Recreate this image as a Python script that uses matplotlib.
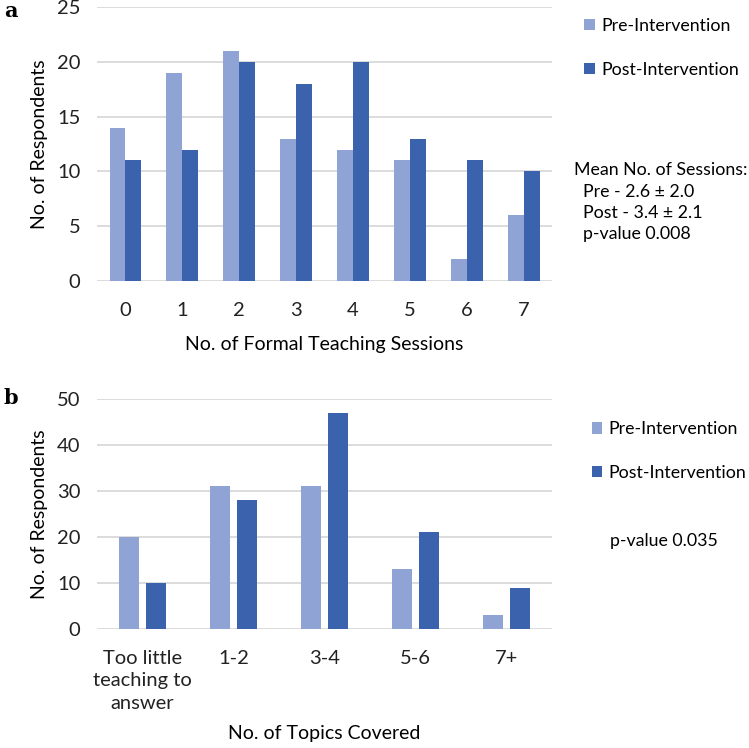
import numpy as np
import matplotlib
matplotlib.use("Agg")
import matplotlib.pyplot as plt

# Panel a: number of formal teaching sessions
sessions = ["0", "1", "2", "3", "4", "5", "6", "7"]
sessions_pre = [14, 19, 21, 13, 12, 11, 2, 6]
sessions_post = [11, 12, 20, 18, 20, 13, 11, 10]

# Panel b: number of topics covered
topics = ["Too little\nteaching to\nanswer", "1-2", "3-4", "5-6", "7+"]
topics_pre = [20, 31, 31, 13, 3]
topics_post = [10, 28, 47, 21, 9]

PRE = "#8fa3d5"
POST = "#3a62ad"
GRID = "#d9d9d9"

plt.rcParams["font.family"] = ["Lato", "DejaVu Sans"]
plt.rcParams["font.size"] = 14

fig = plt.figure(figsize=(7.49, 7.48), dpi=100)
ax_a = fig.add_axes([0.1295, 0.6243, 0.6075, 0.3663])
ax_b = fig.add_axes([0.1295, 0.1591, 0.6075, 0.3075])


def style(ax):
    for s in ax.spines.values():
        s.set_visible(False)
    ax.yaxis.grid(True, color=GRID, linewidth=1.3)
    ax.set_axisbelow(True)
    ax.tick_params(length=0, labelsize=14.5, colors="#222222")
    ax.tick_params(axis="y", pad=12)
    ax.tick_params(axis="x", pad=15)


def legend(ax, x0, y0):
    ax.legend(loc="upper left", bbox_to_anchor=(x0, y0), bbox_transform=fig.transFigure,
              frameon=False, borderpad=0, borderaxespad=0,
              handlelength=0.6, handleheight=0.6, handletextpad=0.35,
              labelspacing=1.55, fontsize=12.8)


# panel a
x = np.arange(len(sessions))
w = 0.28
ax_a.bar(x - w / 2, sessions_pre, w, color=PRE, label="Pre-Intervention")
ax_a.bar(x + w / 2, sessions_post, w, color=POST, label="Post-Intervention")
ax_a.set_xlim(-0.5, 7.5)
ax_a.set_ylim(0, 25)
ax_a.set_yticks([0, 5, 10, 15, 20, 25])
ax_a.set_xticks(x)
ax_a.set_xticklabels(sessions)
style(ax_a)
ax_a.set_ylabel("No. of Respondents", fontsize=14, labelpad=6)
ax_a.set_xlabel("No. of Formal Teaching Sessions", fontsize=14, labelpad=12)
legend(ax_a, 0.780, 0.976)
fig.text(0.766, 0.783, "Mean No. of Sessions:\n  Pre - 2.6 \u00b1 2.0\n  Post - 3.4 \u00b1 2.1\n  p-value 0.008",
         fontsize=12.8, va="top", ha="left", linespacing=1.4)
fig.text(0.005, 0.985, "a", fontsize=15, fontweight="bold", family="DejaVu Serif", va="center")

# panel b
x2 = np.arange(len(topics))
w2 = 0.22
gap = 0.07
ax_b.bar(x2 - (w2 + gap) / 2, topics_pre, w2, color=PRE, label="Pre-Intervention")
ax_b.bar(x2 + (w2 + gap) / 2, topics_post, w2, color=POST, label="Post-Intervention")
ax_b.set_xlim(-0.5, 4.5)
ax_b.set_ylim(0, 50)
ax_b.set_yticks([0, 10, 20, 30, 40, 50])
ax_b.set_xticks(x2)
ax_b.set_xticklabels(topics, va="top", linespacing=1.4)
style(ax_b)
ax_b.set_ylabel("No. of Respondents", fontsize=14, labelpad=6)
ax_b.set_xlabel("No. of Topics Covered", fontsize=14, labelpad=9)
legend(ax_b, 0.790, 0.437)
fig.text(0.815, 0.277, "p-value 0.035", fontsize=12.8, va="center", ha="left")
fig.text(0.005, 0.468, "b", fontsize=15, fontweight="bold", family="DejaVu Serif", va="center")

fig.savefig("out.png", dpi=100)
